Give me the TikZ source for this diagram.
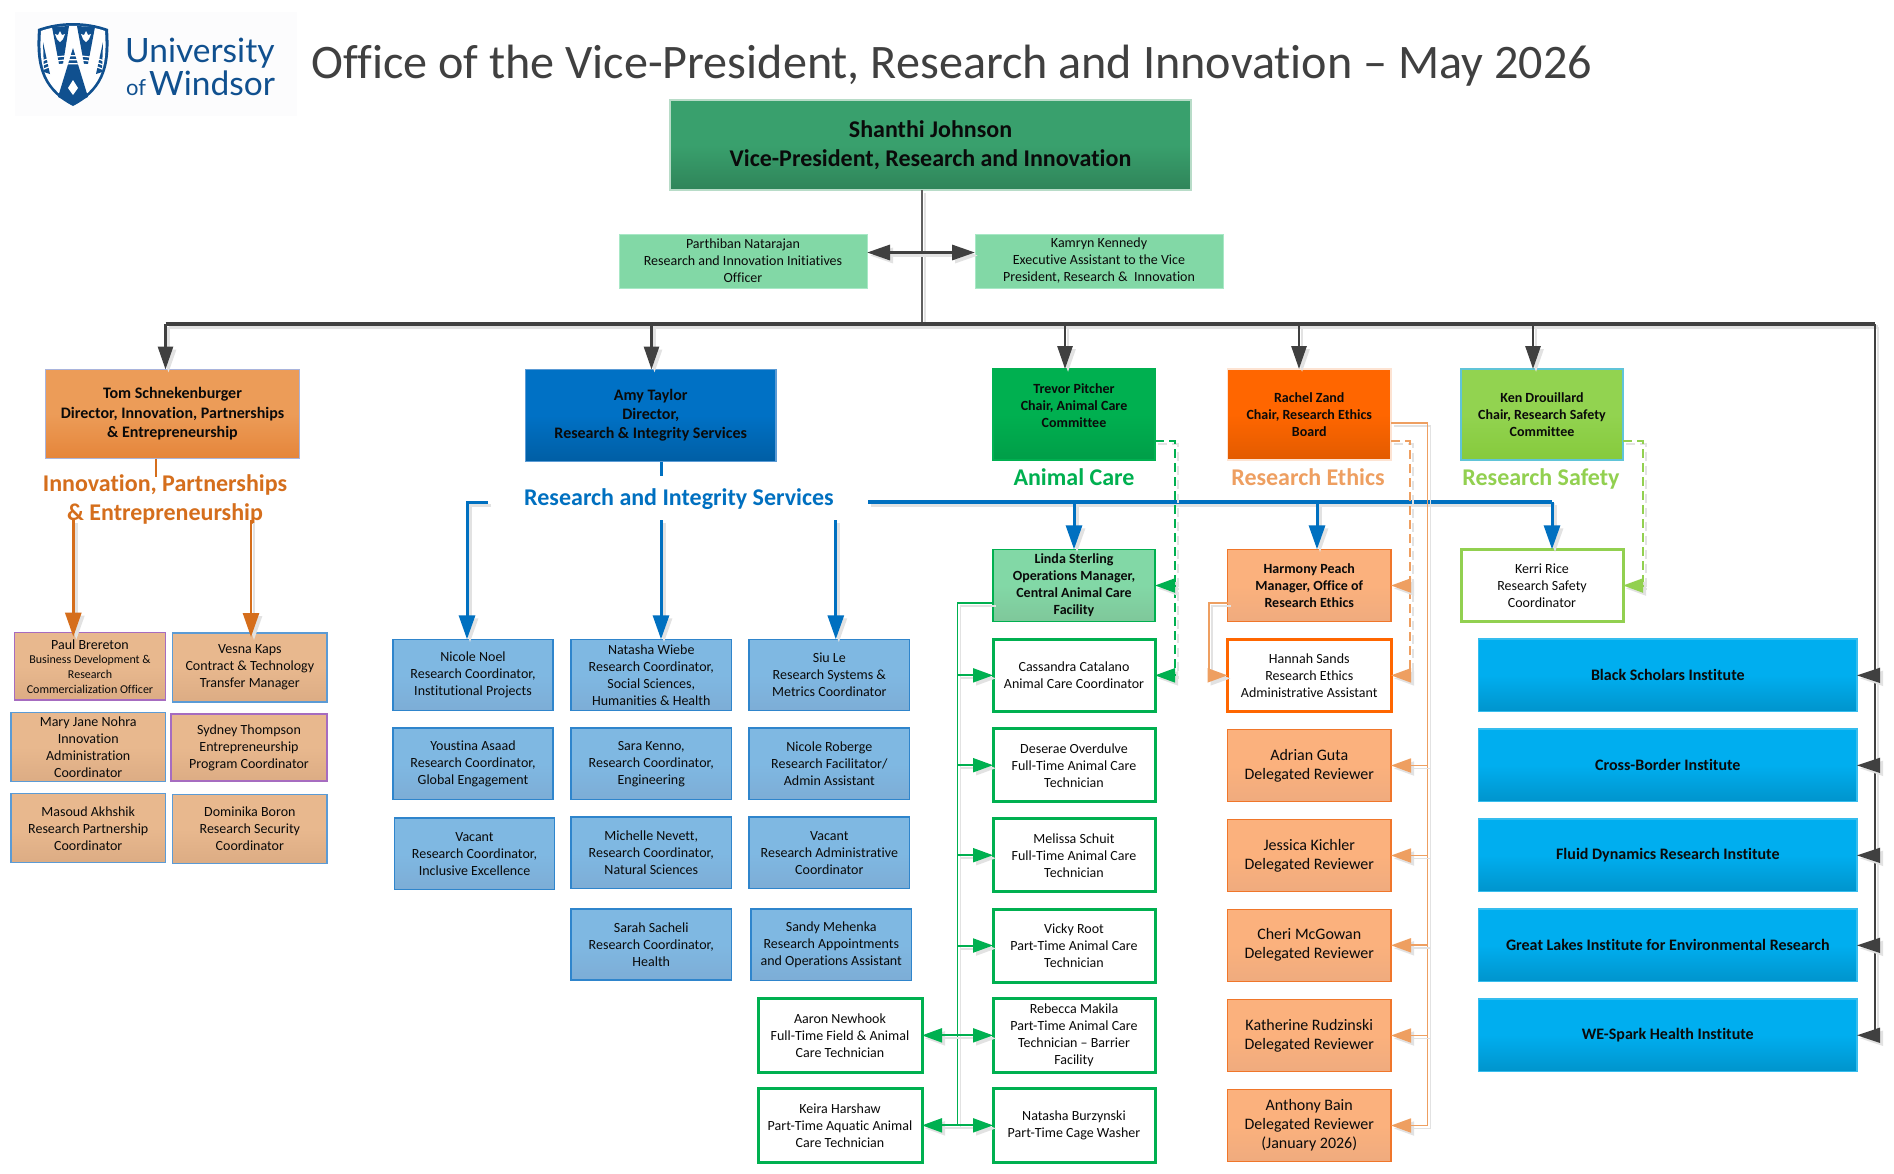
\documentclass[tikz,border=0pt]{standalone}
\usepackage{fontspec}
\setmainfont{Carlito}[Ligatures={TeX,NoCommon}]
\newfontfamily\logofont{Lato}
\usetikzlibrary{arrows.meta,calc}
\newcommand\dc[1]{\definecolor{#1}{HTML}{#1}}
\dc{FCFCFD}\dc{39A06D}\dc{2F8459}\dc{B8DCC8}\dc{A8E8C6}\dc{82D8A6}\dc{EC9C58}\dc{E5853A}\dc{A9B4DC}\dc{0071C5}\dc{005EA4}\dc{5B9BD5}\dc{00B050}\dc{009E48}\dc{FF6600}\dc{E25B00}\dc{FDE3D2}\dc{92D350}\dc{86CA3C}\dc{60C4D8}\dc{7FC79A}\dc{FBB17D}\dc{EFAB7E}\dc{F0762A}\dc{E8B88E}\dc{DCAC84}\dc{A66CC0}\dc{7FB8E2}\dc{7DADD6}\dc{2F85CC}\dc{00AEEF}\dc{0094CC}\dc{35BDEE}\dc{5F5F5F}
\definecolor{ink}{HTML}{0A0A0A}
\definecolor{navy}{HTML}{10508F}
\definecolor{shc}{HTML}{E2E2E2}
\definecolor{dk}{HTML}{404040}
\definecolor{bl}{HTML}{0070C0}
\definecolor{og}{HTML}{D56E1C}
\definecolor{gr}{HTML}{00B050}
\definecolor{lo}{HTML}{EE9F61}
\definecolor{lg}{HTML}{92D050}
\tikzset{
  x=1pt,y=-1pt,
  bx/.style={rectangle,inner sep=0pt,outer sep=0pt,align=center,text=ink},
  grad/.style n args={3}{bx,draw=#3,line width=1.3pt,top color=#1,bottom color=#2,middle color=#1},
  txt/.style={font=\fontsize{14}{17}\selectfont},
  vp/.style={grad={39A06D}{2F8459}{B8DCC8},font=\fontsize{24}{29}\selectfont\bfseries},
  mint/.style={bx,txt,draw=A8E8C6,fill=82D8A6,line width=1pt},
  tombox/.style={grad={EC9C58}{E5853A}{A9B4DC},font=\fontsize{16}{19.5}\selectfont\bfseries},
  amybox/.style={grad={0071C5}{005EA4}{5B9BD5},font=\fontsize{16}{19}\selectfont\bfseries},
  trevbox/.style={grad={00B050}{009E48}{00B050},font=\fontsize{14}{17}\selectfont\bfseries},
  rachbox/.style={grad={FF6600}{E25B00}{FDE3D2},font=\fontsize{14}{17}\selectfont\bfseries},
  kenbox/.style={grad={92D350}{86CA3C}{60C4D8},font=\fontsize{14}{17}\selectfont\bfseries},
  lindabox/.style={grad={82D8A6}{7FC79A}{00B050},font=\fontsize{14}{17}\selectfont\bfseries},
  harmbox/.style={grad={FBB17D}{EFAB7E}{F0762A},font=\fontsize{14}{17}\selectfont\bfseries},
  peach/.style={grad={E8B88E}{DCAC84}{5B9BD5},txt},
  peachp/.style={grad={E8B88E}{DCAC84}{A66CC0},txt},
  paulbox/.style={grad={E8B88E}{DCAC84}{A66CC0},font=\fontsize{12}{14.7}\selectfont},
  bluebox/.style={grad={7FB8E2}{7DADD6}{2F85CC},txt},
  gwhite/.style={bx,txt,fill=white,draw=gr,line width=3pt},
  lgwhite/.style={bx,txt,fill=white,draw=lg,line width=3pt},
  owhite/.style={bx,txt,fill=white,draw=FF6600,line width=3pt},
  revbox/.style={grad={FBB17D}{EFAB7E}{F0762A},font=\fontsize{16}{19}\selectfont},
  instbox/.style={grad={00AEEF}{0094CC}{35BDEE},font=\fontsize{16}{18}\selectfont\bfseries},
  seclabel/.style={inner sep=0pt,outer sep=0pt,align=center,font=\fontsize{24}{29}\selectfont\bfseries},
  shad/.style={draw=shc,transform canvas={shift={(3pt,-3pt)}}},
  tdk/.style={draw=dk,line width=2.8pt,-{Triangle[length=23pt,width=15pt]}},
  tdkplain/.style={draw=dk,line width=3.2pt},
  tbl/.style={draw=bl,line width=3pt,-{Triangle[length=24pt,width=16pt]}},
  tblplain/.style={draw=bl,line width=3.2pt},
  tog/.style={draw=og,line width=2.6pt,-{Triangle[length=24pt,width=16pt]}},
  tgr/.style={draw=gr,line width=2pt,-{Triangle[length=20pt,width=14pt]}},
  tgrplain/.style={draw=gr,line width=2pt},
  tlo/.style={draw=lo,line width=1.8pt,-{Triangle[length=20pt,width=14pt]}},
  tloplain/.style={draw=lo,line width=1.8pt},
  dsh/.style={dash pattern=on 9pt off 5pt},
  both/.style={arrows={{Triangle[length=23pt,width=15pt]}-{Triangle[length=23pt,width=15pt]}}},
}
\newcommand\bxn[7]{\path node[#2,minimum width={(#5-#3)*1pt},minimum height={(#6-#4)*1pt}] (#1) at ({(#3+#5)/2},{(#4+#6)/2}) {#7};}
\newcommand\cn[2]{\draw[#1,shad] #2; \draw[#1] #2;}
\begin{document}
\begin{tikzpicture}
\useasboundingbox (0,0) rectangle (1894,1173);
\fill[white] (0,0) rectangle (1894,1173);
% logo
\fill[FCFCFD] (15,12) rectangle (297,116);
\fill[navy] (38,29) .. controls (60,21) and (86,21) .. (108,29) .. controls (110,60) and (108,88) .. (73,106) .. controls (38,88) and (36,60) .. (38,29) -- cycle;
\fill[white] (41,31) .. controls (60,24) and (86,24) .. (105,31) .. controls (107,60) and (105,86) .. (73,103) .. controls (41,86) and (39,60) .. (41,31) -- cycle;
\fill[navy] (52,27) -- (69,26) -- (63,64) -- (59,64) -- cycle;
\fill[navy] (77,26) -- (95,27) -- (88,64) -- (84,64) -- cycle;
\fill[navy] (73,48) -- (88,97) -- (73,104) -- (58,97) -- cycle;
\fill[navy] (43,42) -- (50,74) -- (44,72) -- cycle;
\fill[navy] (103,42) -- (96,74) -- (102,72) -- cycle;
\draw[white,line width=1.2pt] (42,61) .. controls (58,54) and (88,54) .. (104,61);
\draw[white,line width=1.2pt] (43,65) .. controls (58,58) and (88,58) .. (103,65);
\draw[white,line width=1.2pt] (44,69) .. controls (58,62) and (88,62) .. (102,69);
\fill[white] (60,31) -- (62,35) -- (65,34) -- (63,39) -- (60,42) -- (57,39) -- (55,34) -- (58,35) -- cycle;
\fill[white] (86,31) -- (88,35) -- (91,34) -- (89,39) -- (86,42) -- (83,39) -- (81,34) -- (84,35) -- cycle;
\fill[white] (73,80) -- (78,88) -- (73,95) -- (68,88) -- cycle;
\path node[anchor=base west,inner sep=0pt,text=navy,font=\fontsize{33.5}{34}\selectfont\logofont] (uni) at (125,62) {University};
\path node[anchor=base west,inner sep=0pt,text=navy,font=\fontsize{22}{22}\selectfont\logofont] (of) at (126,95) {of};
\path node[anchor=base west,inner sep=0pt,text=navy,font=\fontsize{33.5}{35}\selectfont\logofont] (win) at (149,95) {Windsor};
% title
\path node[anchor=base west,inner sep=0pt,text=dk,font=\fontsize{48.15}{48}\selectfont] (title) at (311,78) {Office of the Vice-President, Research and Innovation -- May 2026};
% free coordinates
\coordinate (trunk) at (922,0);
\coordinate (bar) at (0,324);
\coordinate (rbus) at (1875,0);
\coordinate (r252) at (0,252.5);
\coordinate (r441) at (0,441);
\coordinate (r423) at (0,423);
\coordinate (r603) at (0,603);
\coordinate (r502) at (0,502);
\coordinate (r520) at (0,520);
\coordinate (gbus) at (957.5,0);
\coordinate (gdash) at (1174.6,0);
\coordinate (odash) at (1410,0);
\coordinate (osolid) at (1427.4,0);
\coordinate (ldash) at (1643,0);
\coordinate (hbus) at (1209,0);
\coordinate (pa) at (73.3,0);
\coordinate (pb) at (251,0);
\coordinate (ba) at (467,0);
\coordinate (bb) at (661,0);
\coordinate (bc) at (835.8,0);
\coordinate (ga) at (1074,0);
\coordinate (gb) at (1317,0);
\coordinate (gc) at (1552,0);
\coordinate (bara) at (165.5,0);
\coordinate (barb) at (651.5,0);
\coordinate (barc) at (1065,0);
\coordinate (bard) at (1299,0);
\coordinate (bare) at (1533,0);
\coordinate (stub) at (156,0);
\coordinate (stubend) at (0,477);
\coordinate (amyend) at (0,476);
\coordinate (ls) at (488,0);
\coordinate (rs) at (868,0);
% boxes
\bxn{vp}{vp}{670}{100}{1191}{190}{Shanthi Johnson\\Vice-President, Research and Innovation}
\bxn{parth}{mint}{619}{234}{867}{288}{Parthiban Natarajan\\Research and Innovation Initiatives\\Officer}
\bxn{kam}{mint}{975}{234}{1223}{288}{Kamryn Kennedy\\Executive Assistant to the Vice\\President, Research \&\ \ Innovation}
\bxn{tom}{tombox}{45.5}{369.5}{299.5}{458.5}{Tom Schnekenburger\\Director, Innovation, Partnerships\\\& Entrepreneurship}
\bxn{amy}{amybox}{525.5}{369.5}{776}{461.5}{Amy Taylor\\Director,\\Research \& Integrity Services}
\bxn{trev}{trevbox}{993}{369}{1155}{460}{Trevor Pitcher\\Chair, Animal Care\\Committee\\\mbox{}}
\bxn{rach}{rachbox}{1227.5}{369}{1391}{460}{Rachel Zand\\Chair, Research Ethics\\Board}
\bxn{ken}{kenbox}{1461}{369}{1623}{460}{Ken Drouillard\\Chair, Research Safety\\Committee}
% labels
\path node[seclabel,text=og] (ipe) at (165,499) {Innovation, Partnerships\\\& Entrepreneurship};
\path node[seclabel,text=bl] (ris) at (679,499) {Research and Integrity Services};
\path node[seclabel,text=gr,anchor=base] (lac) at (1074,485.5) {Animal Care};
\path node[seclabel,text=lo,anchor=base] (lre) at (1308,485.5) {Research Ethics};
\path node[seclabel,text=lg,anchor=base] (lrs) at (1541,485.5) {Research Safety};
% innovation reports
\bxn{paul}{paulbox}{14.5}{632.7}{165.5}{700}{{\fontsize{14}{14.7}\selectfont Paul Brereton}\\Business Development \&\\Research\\Commercialization Officer}
\bxn{vesna}{peach}{172.7}{633}{327}{702}{Vesna Kaps\\Contract \& Technology\\Transfer Manager}
\bxn{mary}{peach}{11}{712.7}{165.5}{781.7}{Mary Jane Nohra\\Innovation\\Administration\\Coordinator}
\bxn{syd}{peachp}{171}{714}{327}{781}{Sydney Thompson\\Entrepreneurship\\Program Coordinator}
\bxn{mas}{peach}{11}{793.7}{165.5}{862.7}{Masoud Akhshik\\Research Partnership\\Coordinator}
\bxn{dom}{peach}{172.7}{794.7}{327}{863.3}{Dominika Boron\\Research Security\\Coordinator}
% research services
\bxn{nnoel}{bluebox}{393}{639.3}{553}{710.3}{Nicole Noel\\Research Coordinator,\\Institutional Projects}
\bxn{yous}{bluebox}{393}{728}{553}{799.3}{Youstina Asaad\\Research Coordinator,\\Global Engagement}
\bxn{vac}{bluebox}{394.5}{818}{554.5}{889.3}{Vacant\\Research Coordinator,\\Inclusive Excellence}
\bxn{nat}{bluebox}{571}{639.3}{731.5}{710.3}{Natasha Wiebe\\Research Coordinator,\\Social Sciences,\\Humanities \& Health}
\bxn{sara}{bluebox}{571}{728}{731.5}{799.3}{Sara Kenno,\\Research Coordinator,\\Engineering}
\bxn{mich}{bluebox}{571}{817}{731.5}{888.3}{Michelle Nevett,\\Research Coordinator,\\Natural Sciences}
\bxn{sarah}{bluebox}{571}{909}{731.5}{980}{Sarah Sacheli\\Research Coordinator,\\Health}
\bxn{siu}{bluebox}{749}{639.3}{909.7}{710.3}{Siu Le\\Research Systems \&\\Metrics Coordinator}
\bxn{nrob}{bluebox}{749}{728}{909.7}{799.3}{Nicole Roberge\\Research Facilitator/\\Admin Assistant}
\bxn{vac2}{bluebox}{749}{817}{909.7}{888.3}{Vacant\\Research Administrative\\Coordinator}
\bxn{sandy}{bluebox}{751}{909}{911.5}{980.3}{Sandy Mehenka\\Research Appointments\\and Operations Assistant}
% animal care
\bxn{linda}{lindabox}{993}{549.3}{1155}{621.7}{Linda Sterling\\Operations Manager,\\Central Animal Care\\Facility}
\bxn{cass}{gwhite}{993}{639}{1155}{711.7}{Cassandra Catalano\\Animal Care Coordinator}
\bxn{des}{gwhite}{993}{728.7}{1155}{801.7}{Deserae Overdulve\\Full-Time Animal Care\\Technician}
\bxn{mel}{gwhite}{993}{818.7}{1155}{891.7}{Melissa Schuit\\Full-Time Animal Care\\Technician}
\bxn{vic}{gwhite}{993}{909}{1155}{982}{Vicky Root\\Part-Time Animal Care\\Technician}
\bxn{reb}{gwhite}{993}{998.7}{1155}{1072}{Rebecca Makila\\Part-Time Animal Care\\Technician -- Barrier\\Facility}
\bxn{nbur}{gwhite}{993}{1088.7}{1155}{1162}{Natasha Burzynski\\Part-Time Cage Washer}
\bxn{aar}{gwhite}{758}{998.7}{922}{1072}{Aaron Newhook\\Full-Time Field \& Animal\\Care Technician}
\bxn{kei}{gwhite}{758}{1088.7}{922}{1162}{Keira Harshaw\\Part-Time Aquatic Animal\\Care Technician}
% ethics
\bxn{harm}{harmbox}{1227.5}{549.3}{1391}{621.7}{Harmony Peach\\Manager, Office of\\Research Ethics}
\bxn{han}{owhite}{1227.5}{639}{1391}{711.7}{Hannah Sands\\Research Ethics\\Administrative Assistant}
\bxn{adr}{revbox}{1227.5}{729.3}{1391}{801.7}{Adrian Guta\\Delegated Reviewer}
\bxn{jes}{revbox}{1227.5}{819.3}{1391}{891.7}{Jessica Kichler\\Delegated Reviewer}
\bxn{che}{revbox}{1227.5}{909.3}{1391}{981.3}{Cheri McGowan\\Delegated Reviewer}
\bxn{kat}{revbox}{1227.5}{999.3}{1391}{1071.7}{Katherine Rudzinski\\Delegated Reviewer}
\bxn{ant}{revbox}{1227.5}{1089.3}{1391}{1161.7}{Anthony Bain\\Delegated Reviewer\\(January 2026)}
% safety
\bxn{ker}{lgwhite}{1461}{549.3}{1623}{621.7}{Kerri Rice\\Research Safety\\Coordinator}
% institutes
\bxn{i1}{instbox}{1478.6}{639}{1857}{711.7}{Black Scholars Institute}
\bxn{i2}{instbox}{1478.6}{729}{1857}{801.7}{Cross-Border Institute}
\bxn{i3}{instbox}{1478.6}{819}{1857}{891.7}{Fluid Dynamics Research Institute}
\bxn{i4}{instbox}{1478.6}{909}{1857}{981.7}{Great Lakes Institute for Environmental Research}
\bxn{i5}{instbox}{1478.6}{999}{1857}{1071.5}{WE-Spark Health Institute}
% VP connectors
\cn{tdkplain,draw=5F5F5F,line width=2.8pt}{(vp.south -| trunk) -- (trunk |- bar)}
\cn{tdkplain}{(bara |- bar) -- (rbus |- bar)}
\cn{tdk,both,line width=3.2pt}{(parth.east |- r252) -- (kam.west |- r252)}
\foreach \c/\n in {bara/tom,barb/amy,barc/trev,bard/rach,bare/ken}{\cn{tdk}{(\c |- bar) -- (\c |- \n.north)}}
\cn{tdkplain,line width=2.8pt}{(rbus |- bar) -- (rbus |- i5.east)}
\foreach \n in {i1,i2,i3,i4,i5}{\cn{tdk,line width=1.5pt}{(rbus |- \n.east) -- (\n.east)}}
% innovation connectors
\draw[draw=og,line width=2.6pt] (stub |- tom.south) -- (stub |- stubend);
\cn{tog}{(pa |- r520) -- (pa |- paul.north) -- ++(0,4)}
\cn{tog}{(pb |- r520) -- (pb |- vesna.north) -- ++(0,4)}
% research services connectors
\draw[draw=bl,line width=3pt] (bb |- amy.south) -- (bb |- amyend);
\cn{tbl}{(ls |- r502) -- (ba |- r502) -- (ba |- nnoel.north)}
\cn{tbl}{(bb |- r520) -- (bb |- nnoel.north)}
\cn{tbl}{(bc |- r520) -- (bc |- nnoel.north)}
\cn{tblplain}{(rs |- r502) -- (gc |- r502)}
\cn{tbl}{(ga |- r502) -- (ga |- linda.north)}
\cn{tbl}{(gb |- r502) -- (gb |- harm.north)}
\cn{tbl}{(gc |- r502) -- (gc |- ker.north)}
% animal care
\cn{tgrplain,dsh}{(trev.east |- r441) -- (gdash |- r441) -- (gdash |- cass.east)}
\cn{tgr,dsh}{(gdash |- linda.east) -- (linda.east)}
\cn{tgr,dsh}{(gdash |- cass.east) -- (cass.east)}
\cn{tgrplain,line width=1.8pt}{(linda.west |- r603) -- (gbus |- r603) -- (gbus |- kei.east)}
\foreach \n in {cass,des,mel,vic,reb,nbur}{\cn{tgr}{(gbus |- \n.west) -- (\n.west)}}
\cn{tgr}{(gbus |- aar.east) -- (aar.east)}
\cn{tgr}{(gbus |- kei.east) -- (kei.east)}
% ethics
\cn{tloplain,line width=2.2pt,dsh}{(rach.east |- r441) -- (odash |- r441) -- (odash |- han.east)}
\cn{tlo,line width=2.2pt,dsh}{(odash |- harm.east) -- (harm.east)}
\cn{tlo,line width=2.2pt,dsh}{(odash |- han.east) -- (han.east)}
\cn{tloplain}{(rach.east |- r423) -- (osolid |- r423) -- (osolid |- ant.east)}
\foreach \n in {adr,jes,che,kat,ant}{\cn{tlo}{(osolid |- \n.east) -- (\n.east)}}
\cn{tloplain}{(harm.west |- r603) -- (hbus |- r603) -- (hbus |- han.west)}
\cn{tlo}{(hbus |- han.west) -- (han.west)}
% safety
\cn{tgrplain,draw=lg,dsh}{(ken.east |- r441) -- (ldash |- r441) -- (ldash |- ker.east)}
\cn{tgr,draw=lg,dsh}{(ldash |- ker.east) -- (ker.east)}
\end{tikzpicture}
\end{document}
